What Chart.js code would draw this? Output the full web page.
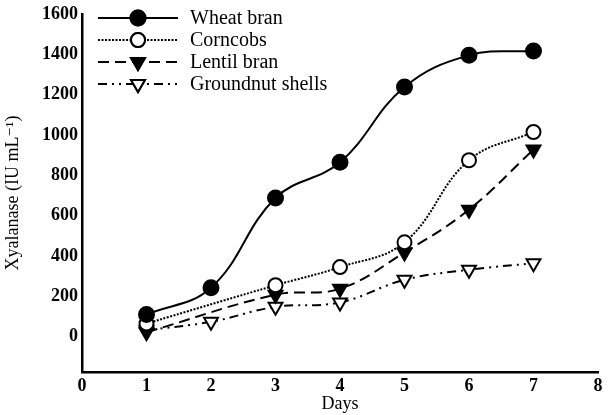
<!DOCTYPE html>
<html>
<head>
<meta charset="utf-8">
<script src="https://cdn.jsdelivr.net/npm/chart.js@4.4.1/dist/chart.umd.min.js"></script>
<style>
  html, body { margin: 0; padding: 0; background: #fff; }
  #wrap { width: 609px; height: 415px; position: relative; }
</style>
</head>
<body>
<div id="wrap"><canvas id="xylChart"></canvas></div>
<script>
// Xylanase production over time per substrate
const days = [1, 2, 3, 4, 5, 6, 7];
const wheatBran = [110, 243, 688, 865, 1238, 1395, 1417];
const corncobs = [65, null, 255, 345, 468, 875, 1015];
const lentilBran = [22, null, 208, 238, 418, 630, 928];
const groundnutShells = [32, 74, 148, 170, 282, 332, 364];
const xTicks = [0, 1, 2, 3, 4, 5, 6, 7, 8];
const yTicks = [0, 200, 400, 600, 800, 1000, 1200, 1400, 1600];

const SERIF = '"Liberation Serif", "DejaVu Serif", serif';

const toPoints = (vals) => days.map((d, i) => ({ x: d, y: vals[i] }));

const seriesDefs = [
  { label: 'Wheat bran', data: wheatBran, dash: [], style: 'circle', radius: 7.5, fill: '#000', width: 2 },
  { label: 'Corncobs', data: corncobs, dash: [2, 1.5], style: 'circle', radius: 7, fill: '#fff', width: 2 },
  { label: 'Lentil bran', data: lentilBran, dash: [11, 6], style: 'triangle', radius: 8, fill: '#000', width: 2 },
  { label: 'Groundnut shells', data: groundnutShells, dash: [9, 5, 2, 5, 2, 5], style: 'triangle', radius: 8, fill: '#fff', width: 2 }
];

const datasets = seriesDefs.map(s => ({
  label: s.label,
  data: toPoints(s.data),
  borderColor: '#000',
  borderWidth: s.width,
  borderDash: s.dash,
  tension: 0.4,
  spanGaps: true,
  pointStyle: s.style,
  pointRotation: s.style === 'triangle' ? 180 : 0,
  pointRadius: s.radius,
  pointBackgroundColor: s.fill,
  pointBorderColor: '#000',
  pointBorderWidth: 2,
  fill: false
}));

// legend drawn inside the plot, top-left, line + marker like the original
const insideLegend = {
  id: 'insideLegend',
  afterDraw(chart) {
    const { ctx } = chart;
    ctx.save();
    const x0 = 98, x1 = 178, rowY = [18, 40, 62, 84];
    chart.data.datasets.forEach((ds, i) => {
      const y = rowY[i];
      ctx.strokeStyle = '#000';
      ctx.lineWidth = ds.borderWidth;
      ctx.setLineDash(ds.borderDash);
      ctx.beginPath();
      ctx.moveTo(x0, y);
      ctx.lineTo(x1, y);
      ctx.stroke();
      ctx.setLineDash([]);
      ctx.fillStyle = ds.pointBackgroundColor;
      ctx.lineWidth = 2;
      Chart.helpers.drawPoint(ctx, {
        pointStyle: ds.pointStyle,
        rotation: ds.pointRotation,
        radius: ds.pointRadius,
        borderWidth: 2
      }, (x0 + x1) / 2, y);
      ctx.fill();
      ctx.stroke();
      ctx.fillStyle = '#000';
      ctx.font = '20px ' + SERIF;
      ctx.textBaseline = 'middle';
      ctx.textAlign = 'left';
      ctx.fillText(ds.label, 190, y + 1);
    });
    ctx.restore();
  }
};

new Chart(document.getElementById('xylChart'), {
  type: 'line',
  data: { datasets: datasets },
  plugins: [insideLegend],
  options: {
    responsive: true,
    maintainAspectRatio: false,
    animation: false,
    layout: { padding: { top: 14, right: 11, left: 0, bottom: 0 } },
    plugins: {
      legend: { display: false },
      tooltip: { enabled: false }
    },
    scales: {
      x: {
        type: 'linear',
        min: 0,
        max: 8,
        afterBuildTicks: (axis) => { axis.ticks = xTicks.map(v => ({ value: v })); },
        afterFit: (axis) => { axis.height = 43; },
        grid: { display: false, drawTicks: true, tickLength: 4, tickColor: '#000', tickWidth: 2 },
        border: { color: '#000', width: 2.5 },
        ticks: {
          color: '#000', padding: 0,
          font: { family: SERIF, size: 18, weight: 'bold' },
          callback: (v) => String(v)
        },
        title: { display: true, text: 'Days', color: '#000', padding: 0, font: { family: SERIF, size: 18 } }
      },
      y: {
        min: -175,
        max: 1600,
        afterBuildTicks: (axis) => { axis.ticks = yTicks.map(v => ({ value: v })); },
        afterFit: (axis) => { axis.width = 82; },
        grid: { display: false, drawTicks: true, tickLength: 3, tickColor: '#000', tickWidth: 2 },
        border: { color: '#000', width: 2.5 },
        ticks: {
          color: '#000', padding: 1,
          font: { family: SERIF, size: 18, weight: 'bold' },
          callback: (v) => String(v)
        },
        title: { display: true, text: 'Xyalanase (IU mL⁻¹)', color: '#000', padding: 2, font: { family: SERIF, size: 18 } }
      }
    }
  }
});
</script>
</body>
</html>
